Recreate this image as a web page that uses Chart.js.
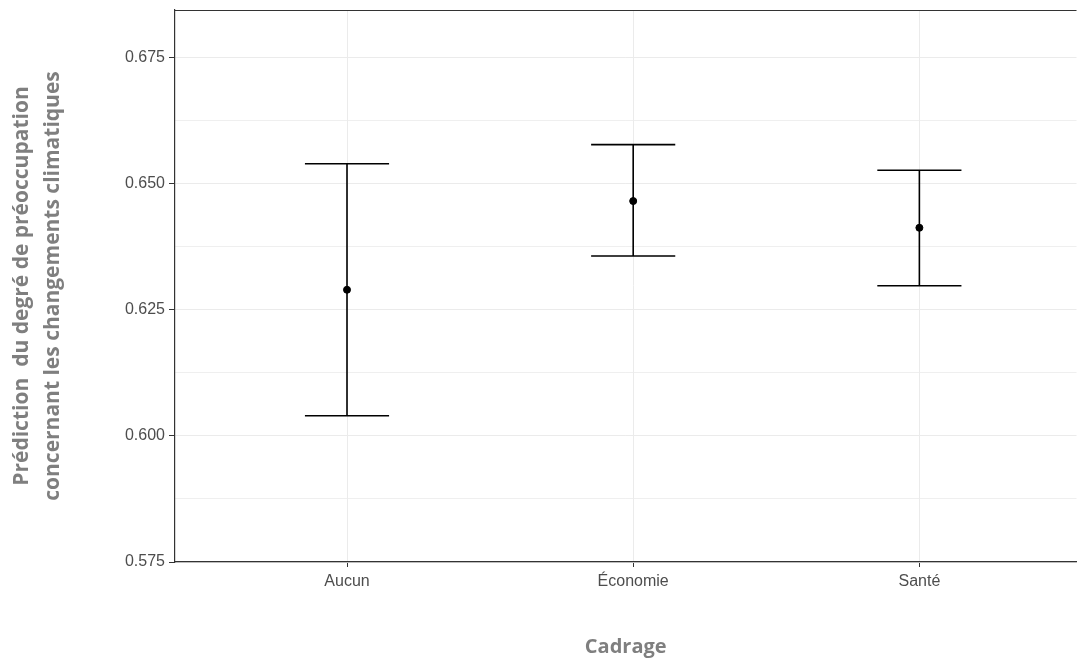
<!DOCTYPE html>
<html lang="fr">
<head>
  <meta charset="UTF-8">
  <title>Prédiction par cadrage</title>
  <script src="https://cdn.jsdelivr.net/npm/chart.js"></script>
  <style>
    html, body { margin: 0; padding: 0; background: #fff; }
  </style>
</head>
<body>
  <canvas id="graphique" width="1081" height="659"></canvas>

  <script>
  // valeurs
  const cadrages = ['Aucun', 'Économie', 'Santé'];
  const prediction = [0.6290, 0.6466, 0.6413];
  const borneBasse = [0.6040, 0.6357, 0.6298];
  const borneHaute = [0.6540, 0.6578, 0.6527];
  const ticksY = [0.575, 0.5875, 0.600, 0.6125, 0.625, 0.6375, 0.650, 0.6625, 0.675];

  const grisGrille = '#EBEBEB';
  const grisCadre = '#333333';

  const sansMarge = (axis) => {
    axis.paddingLeft = 0; axis.paddingRight = 0;
    axis.paddingTop = 0; axis.paddingBottom = 0;
  };

  // barres d'erreur + bord du haut
  const barresErreur = {
    id: 'barresErreur',
    beforeDatasetsDraw(chart) {
      const { ctx, chartArea, scales } = chart;
      ctx.save();
      ctx.strokeStyle = grisCadre;
      ctx.lineWidth = 1.2;
      ctx.beginPath();
      ctx.moveTo(chartArea.left, chartArea.top + 0.5);
      ctx.lineTo(chartArea.right, chartArea.top + 0.5);
      ctx.stroke();

      ctx.strokeStyle = '#000';
      ctx.lineWidth = 1.6;
      const demi = scales.x.getPixelForValue(0.147) - scales.x.getPixelForValue(0);
      cadrages.forEach((c, i) => {
        const x = scales.x.getPixelForValue(i);
        const yb = scales.y.getPixelForValue(borneBasse[i]);
        const yh = scales.y.getPixelForValue(borneHaute[i]);
        ctx.beginPath();
        ctx.moveTo(x, yb); ctx.lineTo(x, yh);
        ctx.moveTo(x - demi, yb); ctx.lineTo(x + demi, yb);
        ctx.moveTo(x - demi, yh); ctx.lineTo(x + demi, yh);
        ctx.stroke();
      });
      ctx.restore();
    }
  };

  const ctx = document.getElementById('graphique').getContext('2d');
  new Chart(ctx, {
    type: 'scatter',
    data: {
      datasets: [{
        data: cadrages.map((c, i) => ({ x: i, y: prediction[i] })),
        backgroundColor: '#000',
        borderColor: '#000',
        pointRadius: 3.5,
        pointHoverRadius: 3.5
      }]
    },
    options: {
      responsive: false,
      animation: false,
      layout: { padding: { left: 0, top: 10, right: 0, bottom: 0 } },
      plugins: {
        legend: { display: false },
        tooltip: { enabled: false }
      },
      scales: {
        x: {
          type: 'linear',
          min: -0.601,
          max: 2.549,
          afterBuildTicks: (axis) => { axis.ticks = cadrages.map((c, i) => ({ value: i })); },
          afterFit: (axis) => { axis.height = 97; sansMarge(axis); },
          ticks: {
            callback: (v) => cadrages[v],
            color: '#4D4D4D',
            font: { family: 'Liberation Sans', size: 16 },
            padding: 5,
            maxRotation: 0
          },
          grid: {
            color: grisGrille,
            lineWidth: 1,
            tickColor: grisCadre,
            tickLength: 5
          },
          border: { color: grisCadre, width: 1.2 },
          title: {
            display: true,
            text: 'Cadrage',
            color: '#7F7F7F',
            font: { family: 'Open Sans', size: 20, weight: 'bold' },
            padding: { top: 22, bottom: 0 }
          }
        },
        y: {
          min: 0.575,
          max: 0.6845,
          afterBuildTicks: (axis) => { axis.ticks = ticksY.map(v => ({ value: v })); },
          afterFit: (axis) => { axis.width = 175; sansMarge(axis); },
          ticks: {
            callback: (v) => (Math.round(v * 1000) % 25 === 0 ? v.toFixed(3) : ''),
            color: '#4D4D4D',
            font: { family: 'Liberation Sans', size: 16 },
            padding: 4
          },
          grid: {
            color: grisGrille,
            lineWidth: (c) => (Math.round(c.tick.value * 1000) % 25 === 0 ? 1 : 0.8),
            tickColor: (c) => (Math.round(c.tick.value * 1000) % 25 === 0 ? grisCadre : 'rgba(0,0,0,0)'),
            tickLength: 6
          },
          border: { color: grisCadre, width: 1.2 },
          title: {
            display: true,
            text: ['Prédiction  du degré de préoccupation', 'concernant les changements climatiques'],
            color: '#7F7F7F',
            font: { family: 'Open Sans', size: 21, weight: 'bold', lineHeight: 1.5 },
            padding: { top: 6, bottom: 0 }
          }
        }
      }
    },
    plugins: [barresErreur]
  });
  </script>
</body>
</html>
